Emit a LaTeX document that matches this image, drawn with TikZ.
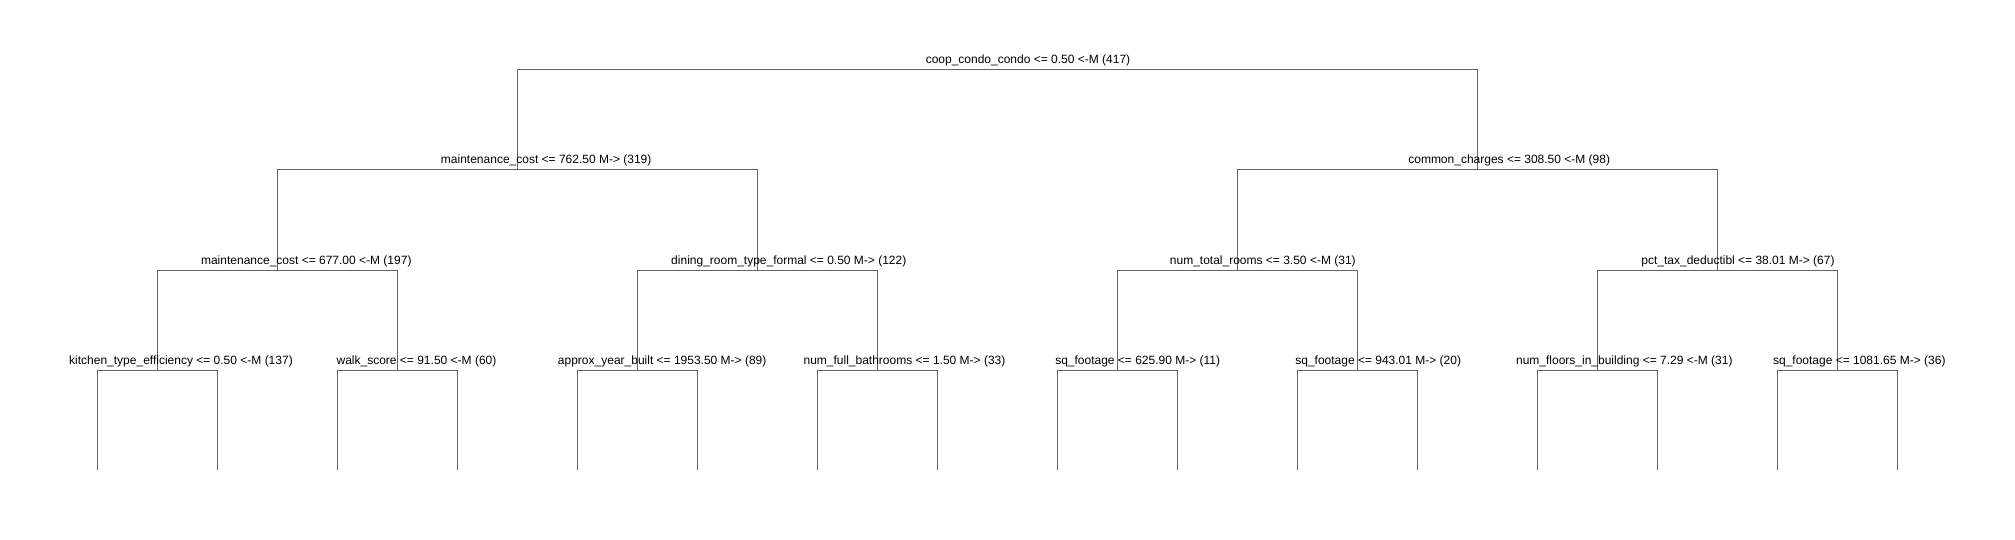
\documentclass[tikz,border=0pt]{standalone}
\usepackage{fontspec}
\setmainfont{Liberation Sans}
\definecolor{edgegray}{RGB}{100,100,100}
\begin{document}
\begin{tikzpicture}[x=1pt,y=-1pt,
  edge/.style={draw=edgegray,line width=1pt},
  lbl/.style={anchor=base,inner sep=0pt,outer sep=0pt,font=\fontsize{12}{14}\selectfont,text=black}]
\useasboundingbox (0,0) rectangle (2015,540);
% node coordinates (x of vertical, y of its split line)
\coordinate (c1) at (997.3,70);
\coordinate (c2) at (517.3,170);
\coordinate (c3) at (1477.3,170);
\foreach \i/\x in {4/277.3,5/757.3,6/1237.3,7/1717.3}
  \coordinate (c\i) at (\x,270);
\foreach \i/\x in {8/157.3,9/397.3,10/637.3,11/877.3,12/1117.3,13/1357.3,14/1597.3,15/1837.3}
  \coordinate (c\i) at (\x,370);
\foreach \k in {0,...,15}{
  \pgfmathtruncatemacro{\idx}{16+\k}
  \coordinate (c\idx) at ({97.3+120*\k},470);
}
% connectors
\foreach \p/\a/\b in {1/2/3,2/4/5,3/6/7,4/8/9,5/10/11,6/12/13,7/14/15,
  8/16/17,9/18/19,10/20/21,11/22/23,12/24/25,13/26/27,14/28/29,15/30/31}
  \draw[edge] (c\a) |- (c\b |- c\p) -- (c\b);
% labels
\node[lbl] (n1) at (1028,64) {coop\_condo\_condo <= 0.50 <-M (417)};
\node[lbl] (n2) at (546.2,164) {maintenance\_cost <= 762.50 M-> (319)};
\node[lbl] (n3) at (1509.2,164) {common\_charges <= 308.50 <-M (98)};
\node[lbl] (n4) at (306.3,264) {maintenance\_cost <= 677.00 <-M (197)};
\node[lbl] (n5) at (788.8,264) {dining\_room\_type\_formal <= 0.50 M-> (122)};
\node[lbl] (n6) at (1262.8,264) {num\_total\_rooms <= 3.50 <-M (31)};
\node[lbl] (n7) at (1738,264) {pct\_tax\_deductibl <= 38.01 M-> (67)};
\node[lbl] (n8) at (181,364) {kitchen\_type\_efficiency <= 0.50 <-M (137)};
\node[lbl] (n9) at (416.5,364) {walk\_score <= 91.50 <-M (60)};
\node[lbl] (n10) at (662.2,364) {approx\_year\_built <= 1953.50 M-> (89)};
\node[lbl] (n11) at (904.5,364) {num\_full\_bathrooms <= 1.50 M-> (33)};
\node[lbl] (n12) at (1137.7,364) {sq\_footage <= 625.90 M-> (11)};
\node[lbl] (n13) at (1378.2,364) {sq\_footage <= 943.01 M-> (20)};
\node[lbl] (n14) at (1624.3,364) {num\_floors\_in\_building <= 7.29 <-M (31)};
\node[lbl] (n15) at (1859.3,364) {sq\_footage <= 1081.65 M-> (36)};
\end{tikzpicture}
\end{document}
